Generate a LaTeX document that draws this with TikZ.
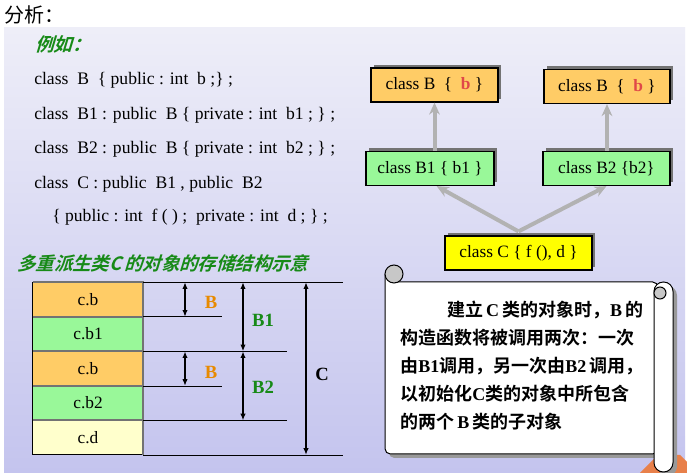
\documentclass[tikz,border=0pt]{standalone}
\usepackage{fontspec}
\setmainfont{Liberation Serif}
\newfontfamily\cjk{Noto Sans CJK SC}
\newfontfamily\cjkbold{Noto Sans CJK SC Bold}
\newfontfamily\cjkslant[FakeSlant=0.3]{Noto Sans CJK SC Bold}
\usetikzlibrary{arrows.meta,calc,positioning,shadows}
\definecolor{panelTop}{HTML}{EEEEF8}
\definecolor{panelBot}{HTML}{C4C4EE}
\definecolor{boxOrange}{HTML}{FFCC66}
\definecolor{boxGreen}{HTML}{99F899}
\definecolor{boxYellow}{HTML}{FFFF00}
\definecolor{boxCream}{HTML}{FFFFCC}
\definecolor{darkGreen}{HTML}{178A17}
\definecolor{labOrange}{HTML}{E88A00}
\definecolor{memberRed}{HTML}{E04848}
\definecolor{roofOrange}{HTML}{E8804A}
\newcommand\latin[1]{{\rmfamily\bfseries #1}}

\begin{document}
\begin{tikzpicture}[
          x=0.75pt, y=-0.75pt,
          code/.style={anchor=west, inner sep=0pt, font=\fontsize{13.2}{15}\selectfont},
          cls/.style={draw=black, line width=0.9pt, minimum height=25.5pt, inner sep=0pt,
            font=\fontsize{13}{15}\selectfont,
            drop shadow={shadow xshift=2.5pt, shadow yshift=2.5pt, fill=black!55, opacity=1}},
          inherit/.style={draw=black!30, line width=3pt, -{Stealth[length=9pt,width=8pt]}},
          cell/.style={minimum width=82.5pt, minimum height=25.5pt, inner sep=0pt,
            font=\fontsize{13}{15}\selectfont},
          sep/.style={draw=black!55, line width=1.5pt},
          dim/.style={line width=1pt, {Latex[length=5pt,width=4pt]}-{Latex[length=5pt,width=4pt]}},
          part/.style={font=\bfseries\fontsize{14}{16}\selectfont},
          scroll/.style={fill=white, draw=black, line width=0.75pt}
      ]
        \useasboundingbox (0,0) rectangle (687,473);
        % page and panel
        \fill[white] (0,0) rectangle (687,473);
        \shade[top color=panelTop, bottom color=panelBot] (4,28) rectangle (685,473);
        \node[anchor=west, inner sep=0pt, font=\cjk\fontsize{15}{16}\selectfont] (head) at (4,15) {分析：};
        \node[anchor=west, inner sep=0pt, text=darkGreen, font=\cjkslant\fontsize{14}{15}\selectfont] (eg) at (35,44) {例如：};

        % class declarations
        \node[code] (l1) at (34,80) {class\ \ B\ \ \{ public : int\ \ b ;\} ;};
        \node[code] (l2) at (34,115) {class\ \ B1 : public\ \ B \{ private : int\ \ b1 ; \} ;};
        \node[code] (l3) at (34,149) {class\ \ B2 : public\ \ B \{ private : int\ \ b2 ; \} ;};
        \node[code] (l4) at (34,184) {class\ \ C : public\ \ B1 , public\ \ B2};
        \node[code] (l5) at (52,217) {\{ public : int\ \ f ( ) ;\ \ private : int\ \ d ; \} ;};

        % class hierarchy
        \node[cls, fill=boxOrange, minimum width=95.25pt] (bleft) at (434.5,85)
          {class B\ \ \{\ \ \textcolor{memberRed}{\textbf{b}} \}};
        \node[cls, fill=boxOrange, minimum width=94.5pt] (bright) at (607,86.5)
          {class B\ \ \{\ \ \textcolor{memberRed}{\textbf{b}} \}};
        \node[cls, fill=boxGreen, minimum width=96pt] (bone) at (430,168.5) {class B1\ \{ b1 \}};
        \node[cls, fill=boxGreen, minimum width=95.25pt] (btwo) at (606.5,168.5) {class B2\ \{b2\}};
        \node[cls, fill=boxYellow, minimum width=110.25pt] (cc) at (518.5,253) {class C \{ f (), d \}};
        \draw[inherit] (bone.north -| bleft) -- (bleft.south);
        \draw[inherit] (btwo.north -| bright) -- (bright.south);
        \draw[inherit] ([yshift=3pt]cc.north) -- ([xshift=5pt]bone.south);
        \draw[inherit] ([yshift=3pt]cc.north) -- (btwo.south);

        % storage layout of C
        \node[anchor=west, inner sep=0pt, text=darkGreen, font=\cjkslant\fontsize{13.8}{15}\selectfont] (title) at (17,263)
          {多重派生类C\,的对象的存储结构示意};
        \node[cell, fill=boxOrange] (mb) at (88,299.5) {c.b};
        \node[cell, fill=boxGreen, below=0pt of mb] (mbone) {c.b1};
        \node[cell, fill=boxOrange, below=0pt of mbone] (mbb) {c.b};
        \node[cell, fill=boxGreen, below=0pt of mbb] (mbtwo) {c.b2};
        \node[cell, fill=boxCream, below=0pt of mbtwo] (md) {c.d};
        \draw[line width=0.75pt] (mb.north west) -- (md.south west) -- (md.south east);
        \draw[sep] (mb.north west) -- (mb.north east) -- (md.south east);
        \foreach \r in {mb,mbone,mbb,mbtwo}
          \draw[sep] (\r.south west) -- (\r.south east);
        \coordinate (xShort) at (222,0);
        \coordinate (xMid) at (287,0);
        \coordinate (xLong) at (343,0);
        \coordinate (xB) at (185,0);
        \coordinate (xBB) at (243,0);
        \coordinate (xC) at (306,0);
        \draw (mb.north east) -- (mb.north east -| xLong);
        \draw (mb.south east) -- (mb.south east -| xShort);
        \draw (mbone.south east) -- (mbone.south east -| xMid);
        \draw (mbb.south east) -- (mbb.south east -| xShort);
        \draw (mbtwo.south east) -- (mbtwo.south east -| xMid);
        \draw (md.south east) -- (md.south east -| xLong);
        \draw[dim] (mb.north -| xB) -- (mb.south -| xB);
        \draw[dim] (mbb.north -| xB) -- (mbb.south -| xB);
        \draw[dim] (mb.north -| xBB) -- (mbone.south -| xBB);
        \draw[dim] (mbb.north -| xBB) -- (mbtwo.south -| xBB);
        \draw[dim] (mb.north -| xC) -- (md.south -| xC);
        \node[part, text=labOrange] (pb) at (211,302) {B};
        \node[part, text=labOrange] (pbb) at (211,372) {B};
        \node[part, text=darkGreen] (pbone) at (263,320) {B1};
        \node[part, text=darkGreen] (pbtwo) at (263,387) {B2};
        \node[part] (pc) at (322,374) {C};

        % scroll note
        \fill[roofOrange] (640,473) -- (658,455) -- (680,455) -- (687,462) -- (687,473) -- cycle;
        \begin{scope}[shift={(4,4)}]
          \fill[black!40, rounded corners=4pt] (385,274) -- (385,454) -- (658,454) -- (658,282) -- (396,282) -- cycle;
          \fill[black!40, rounded corners=7pt] (654,282) rectangle (673,472);
        \end{scope}
        \path[scroll, rounded corners=4pt] (385,274) -- (385,454) -- (658,454) -- (658,282) -- (396,282);
        \path[scroll, rounded corners=7pt] (654,282) rectangle (673,472);
        \filldraw[fill=black!22, draw=black, line width=0.75pt] (660,293) circle (6);
        \filldraw[fill=black!22, draw=black, line width=0.75pt] (394,274) circle (9);
        \node[anchor=north west, align=left, inner sep=0pt, font=\cjkbold\fontsize{13.5}{21}\selectfont] (note) at (400,301)
          {\hspace*{2.6em}建立\,\latin{C}\,类的对象时，\latin{B}\,的\\构造函数将被调用两次：一次\\由\latin{B1}调用，另一次由\latin{B2}\,调用，\\以初始化\latin{C}类的对象中所包含\\的两个\,\latin{B}\,类的子对象};
      \end{tikzpicture}
\end{document}
